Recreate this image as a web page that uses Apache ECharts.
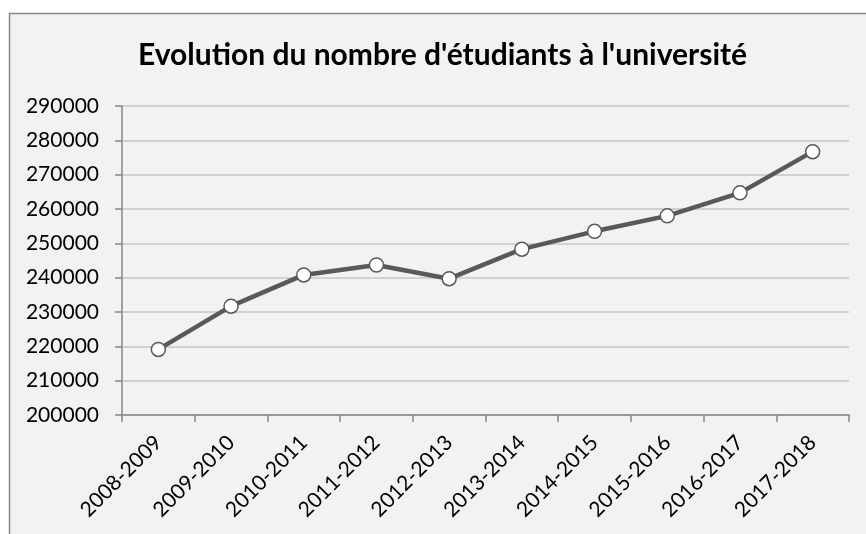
<!DOCTYPE html>
<html>
<head>
<meta charset="utf-8">
<script src="https://cdn.jsdelivr.net/npm/echarts@6/dist/echarts.min.js"></script>
<style>
  html, body { margin: 0; padding: 0; background: #fff; }
  #chart { width: 866px; height: 534px; }
</style>
</head>
<body>
<div id="chart"></div>
<script>
    // années universitaires
    var annees = ['2008-2009', '2009-2010', '2010-2011', '2011-2012', '2012-2013',
                  '2013-2014', '2014-2015', '2015-2016', '2016-2017', '2017-2018'];
    // nombre d'étudiants
    var etudiants = [219100, 231700, 240800, 243700, 239700, 248300, 253500, 258000, 264700, 276700];
    var yMin = 200000, yMax = 290000, yStep = 10000;

    var chart = echarts.init(document.getElementById('chart'));

    var option = {
        animation: false,
        backgroundColor: '#ffffff',
        // cadre gris du graphique
        graphic: [{
            type: 'rect',
            z: -10,
            shape: {x: 9.5, y: 13.5, width: 900, height: 600},
            style: {fill: '#f2f2f2', stroke: '#898989', lineWidth: 1.5}
        }],
        title: {
            text: "Evolution du nombre d'étudiants à l'université",
            left: 138,
            top: 40,
            padding: 0,
            textStyle: {
                fontFamily: 'Lato',
                fontWeight: 'bold',
                fontSize: 30,
                color: '#000'
            }
        },
        grid: {
            left: 122,
            right: 17,
            top: 106,
            bottom: 119,
            containLabel: false
        },
        xAxis: {
            type: 'category',
            data: annees,
            boundaryGap: true,
            axisLine: {lineStyle: {color: '#868686', width: 1.5}},
            axisTick: {show: true, length: 7, lineStyle: {color: '#868686', width: 1.5}},
            axisLabel: {
                interval: 0,
                rotate: 45,
                margin: 24,
                fontFamily: 'Lato',
                fontSize: 21,
                color: '#000'
            }
        },
        yAxis: {
            type: 'value',
            min: yMin,
            max: yMax,
            interval: yStep,
            axisLine: {show: true, lineStyle: {color: '#868686', width: 1.5}},
            axisTick: {show: true, length: 7, lineStyle: {color: '#868686', width: 1.5}},
            splitLine: {lineStyle: {color: '#c6c6c6', width: 1.5}},
            axisLabel: {
                margin: 23,
                fontFamily: 'Lato',
                fontSize: 21,
                color: '#000',
                formatter: function (v) { return String(v); }
            }
        },
        series: [{
            name: "Nombre d'étudiants",
            type: 'line',
            data: etudiants,
            symbol: 'circle',
            symbolSize: 14,
            lineStyle: {color: '#595959', width: 4.5},
            itemStyle: {color: '#ffffff', borderColor: '#595959', borderWidth: 1.5}
        }]
    };

    chart.setOption(option);
</script>
</body>
</html>
